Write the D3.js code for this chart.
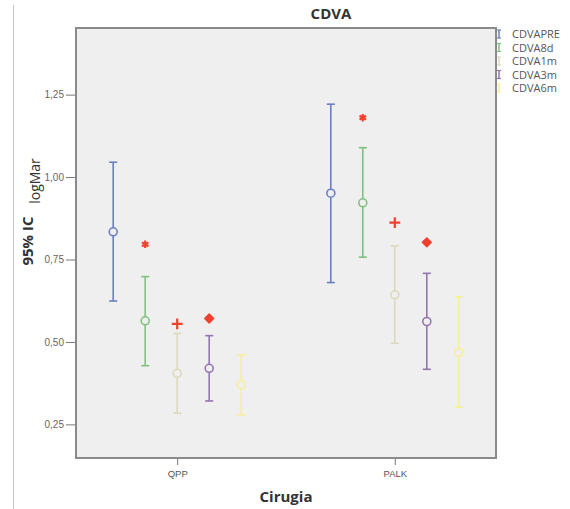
<!DOCTYPE html>
<html>
<head>
<meta charset="utf-8">
<script src="https://cdn.jsdelivr.net/npm/d3@7/dist/d3.min.js"></script>
<style>
  html, body { margin: 0; padding: 0; background: #fff; }
  svg { display: block; font-family: "Open Sans", "DejaVu Sans", sans-serif; }
</style>
</head>
<body>
<svg id="chart" width="570" height="509"></svg>
<script>
// Groups on the x axis and the five repeated measurements
const groups = ["QPP", "PALK"];
const seriesNames = ["CDVAPRE", "CDVA8d", "CDVA1m", "CDVA3m", "CDVA6m"];
const seriesColors = ["#6a7fc0", "#80c07f", "#dcd9bd", "#9375b2", "#f6ee98"];

// Mean and 95% CI bounds (logMAR) per group, in series order
const meanQPP  = [0.834, 0.564, 0.405, 0.420, 0.370];
const lowQPP   = [0.624, 0.428, 0.284, 0.321, 0.279];
const highQPP  = [1.045, 0.698, 0.526, 0.519, 0.461];
const meanPALK = [0.951, 0.922, 0.643, 0.562, 0.468];
const lowPALK  = [0.680, 0.757, 0.496, 0.417, 0.302];
const highPALK = [1.221, 1.089, 0.791, 0.708, 0.637];

// Significance markers (series index, value) per group
const markSeries = [1, 2, 3];
const markQPP  = [0.796, 0.555, 0.571];
const markPALK = [1.180, 0.862, 0.802];

const yTicks = [0.25, 0.50, 0.75, 1.00, 1.25];
const yDomain = [0.148, 1.452];

const rows = [];
groups.forEach((g, gi) => {
  const m = gi === 0 ? meanQPP : meanPALK;
  const lo = gi === 0 ? lowQPP : lowPALK;
  const hi = gi === 0 ? highQPP : highPALK;
  seriesNames.forEach((s, si) => rows.push({ g, s, si, mean: m[si], lo: lo[si], hi: hi[si] }));
});
const marks = [];
groups.forEach((g, gi) => {
  const v = gi === 0 ? markQPP : markPALK;
  markSeries.forEach((si, k) => marks.push({ g, si, k, v: v[k] }));
});

const svg = d3.select("#chart");
const M = { left: 76, top: 28, right: 496, bottom: 458 };

const x = d3.scalePoint().domain(groups).range([M.left, M.right]).padding(0.465);
const off = d3.scalePoint().domain(d3.range(seriesNames.length)).range([-64, 64]);
const y = d3.scaleLinear().domain(yDomain).range([M.bottom, M.top]);

// Outer left rule
svg.append("line").attr("x1", 13.5).attr("x2", 13.5).attr("y1", 5).attr("y2", 509)
  .attr("stroke", "#c4c4c4").attr("stroke-width", 1);

// Plot area
svg.append("rect").attr("x", M.left).attr("y", M.top)
  .attr("width", M.right - M.left).attr("height", M.bottom - M.top)
  .attr("fill", "#efefef").attr("stroke", "#8a8a8a").attr("stroke-width", 2);

// Axes
const yAxis = d3.axisLeft(y).tickValues(yTicks).tickSize(9).tickPadding(2)
  .tickFormat(d => d3.format(".2f")(d).replace(".", ","));
const gy = svg.append("g").attr("transform", `translate(${M.left - 1},0)`).call(yAxis);
gy.select(".domain").remove();
gy.selectAll("line").attr("stroke", "#777");
gy.selectAll("text").attr("fill", "#666").attr("font-size", 10);

const xAxis = d3.axisBottom(x).tickSize(6).tickPadding(5);
const gx = svg.append("g").attr("transform", `translate(0,${M.bottom + 1})`).call(xAxis);
gx.select(".domain").remove();
gx.selectAll("line").attr("stroke", "#777");
gx.selectAll("text").attr("fill", "#555").attr("font-size", 9.5);

// Titles
svg.append("text").attr("x", 331).attr("y", 19).attr("text-anchor", "middle")
  .attr("font-weight", "bold").attr("font-size", 15).attr("fill", "#333").text("CDVA");
svg.append("text").attr("x", 286).attr("y", 502).attr("text-anchor", "middle")
  .attr("font-weight", "bold").attr("font-size", 15).attr("fill", "#333").text("Cirugia");
svg.append("text").attr("transform", "translate(33,241) rotate(-90)").attr("text-anchor", "middle")
  .attr("font-weight", "bold").attr("font-size", 15).attr("fill", "#333").text("95% IC");
svg.append("text").attr("transform", "translate(40,181) rotate(-90)").attr("text-anchor", "middle")
  .attr("font-size", 14).attr("fill", "#333").text("logMar");

// Error bars
const bars = svg.append("g").selectAll("g").data(rows).join("g")
  .attr("transform", d => `translate(${x(d.g) + off(d.si)},0)`)
  .attr("stroke", d => seriesColors[d.si]).attr("fill", "none").attr("stroke-width", 1.6);
bars.append("line").attr("y1", d => y(d.lo)).attr("y2", d => y(d.hi));
bars.append("line").attr("x1", -4).attr("x2", 4).attr("y1", d => y(d.hi)).attr("y2", d => y(d.hi));
bars.append("line").attr("x1", -4).attr("x2", 4).attr("y1", d => y(d.lo)).attr("y2", d => y(d.lo));
bars.append("circle").attr("cy", d => y(d.mean)).attr("r", 4).attr("fill", "#efefef");

// Significance markers
const shapes = [d3.symbolAsterisk, d3.symbolPlus, d3.symbolDiamond2];
svg.append("g").selectAll("path").data(marks).join("path")
  .attr("transform", d => `translate(${x(d.g) + off(d.si)},${y(d.v)})`)
  .attr("d", d => d3.symbol(shapes[d.k], d.k === 2 ? 50 : 40)())
  .attr("fill", d => d.k === 2 ? "#f0402e" : "none")
  .attr("stroke", "#f0402e")
  .attr("stroke-linejoin", "round")
  .attr("stroke-width", d => d.k === 2 ? 1.5 : 2.2);

// Legend
const lg = svg.append("g").selectAll("g").data(seriesNames).join("g")
  .attr("transform", (d, i) => `translate(499,${34 + i * 13.5})`);
lg.append("line").attr("y1", -4).attr("y2", 4).attr("stroke", (d, i) => seriesColors[i]).attr("stroke-width", 1.5);
lg.append("line").attr("x1", -2).attr("x2", 2).attr("y1", -4).attr("y2", -4).attr("stroke", (d, i) => seriesColors[i]).attr("stroke-width", 1.2);
lg.append("line").attr("x1", -2).attr("x2", 2).attr("y1", 4).attr("y2", 4).attr("stroke", (d, i) => seriesColors[i]).attr("stroke-width", 1.2);
lg.append("text").attr("x", 13).attr("y", 4).attr("font-size", 11).attr("fill", "#555").text(d => d);
</script>
</body>
</html>
